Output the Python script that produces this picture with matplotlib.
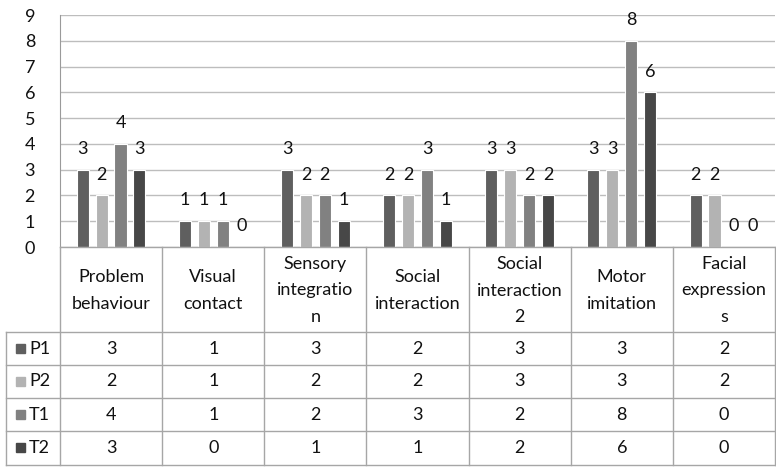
import matplotlib
matplotlib.use("Agg")
import matplotlib.pyplot as plt
import numpy as np

plt.rcParams['font.family'] = ['Lato', 'DejaVu Sans']

categories = ["Problem\nbehaviour", "Visual\ncontact", "Sensory\nintegratio\nn",
              "Social\ninteraction", "Social\ninteraction\n2", "Motor\nimitation",
              "Facial\nexpression\ns"]
series_names = ["P1", "P2", "T1", "T2"]
P1 = [3, 1, 3, 2, 3, 3, 2]
P2 = [2, 1, 2, 2, 3, 3, 2]
T1 = [4, 1, 2, 3, 2, 8, 0]
T2 = [3, 0, 1, 1, 2, 6, 0]
series = [P1, P2, T1, T2]
colors = ["#5f5f5f", "#b3b3b3", "#818181", "#474747"]
yticks = list(range(0, 10))

W, H = 776, 471
fig = plt.figure(figsize=(W / 100, H / 100), dpi=100)
tc = "#111111"
fs = 13

# pixel layout
x0, x1 = 60, 775
ytop, ybot = 15, 247
ax = fig.add_axes([x0 / W, (H - ybot) / H, (x1 - x0) / W, (ybot - ytop) / H])
n = len(categories)
ax.set_xlim(0, n)
ax.set_ylim(0, 9)
ax.set_yticks(yticks)
ax.set_yticklabels([str(t) for t in yticks], fontsize=fs, color=tc)
ax.tick_params(axis='y', length=0, pad=18)
ax.set_xticks([])
ax.grid(axis='y', color="#bdbdbd", linewidth=1)
ax.set_axisbelow(True)
for s in ['top', 'right', 'bottom']:
    ax.spines[s].set_visible(False)
ax.spines['left'].set_color("#9a9a9a")

slot = 0.185
bw = 0.118
xc = np.arange(n) + 0.5
for k, (vals, col) in enumerate(zip(series, colors)):
    xs = xc + (k - 1.5) * slot
    ax.bar(xs, vals, width=bw, color=col, edgecolor="white", linewidth=0.8, zorder=3)
    for xv, v in zip(xs, vals):
        ax.annotate(str(v), (xv, v), xytext=(0, 15), textcoords="offset points",
                    ha="center", va="center", fontsize=fs, color=tc)

# table overlay in pixel coordinates
tax = fig.add_axes([0, 0, 1, 1])
tax.set_xlim(0, W)
tax.set_ylim(H, 0)
tax.axis('off')
lc = "#a6a6a6"
lw = 1.0
bounds = np.linspace(x0, x1, n + 1)
row_y = [332, 365, 398, 431, 465]
tl = 6
tax.plot([x0, x1], [ybot, ybot], color=lc, lw=lw)
for bx in bounds:
    tax.plot([bx, bx], [ybot, row_y[-1]], color=lc, lw=lw)
for ry in row_y:
    tax.plot([tl, x1], [ry, ry], color=lc, lw=lw)
tax.plot([tl, tl], [row_y[0], row_y[-1]], color=lc, lw=lw)

for i, c in enumerate(categories):
    cx = (bounds[i] + bounds[i + 1]) / 2
    tax.text(cx, (ybot + row_y[0]) / 2 + 1, c, ha="center", va="center",
             fontsize=fs, color=tc, linespacing=1.8)

for k, (name, vals, col) in enumerate(zip(series_names, series, colors)):
    cy = (row_y[k] + row_y[k + 1]) / 2
    tax.add_patch(plt.Rectangle((16, cy - 5), 9, 9, color=col))
    tax.text(29, cy, name, ha="left", va="center", fontsize=fs, color=tc)
    for i, v in enumerate(vals):
        cx = (bounds[i] + bounds[i + 1]) / 2
        tax.text(cx, cy, str(v), ha="center", va="center", fontsize=fs, color=tc)

fig.savefig("out.png", dpi=100, facecolor="white")
